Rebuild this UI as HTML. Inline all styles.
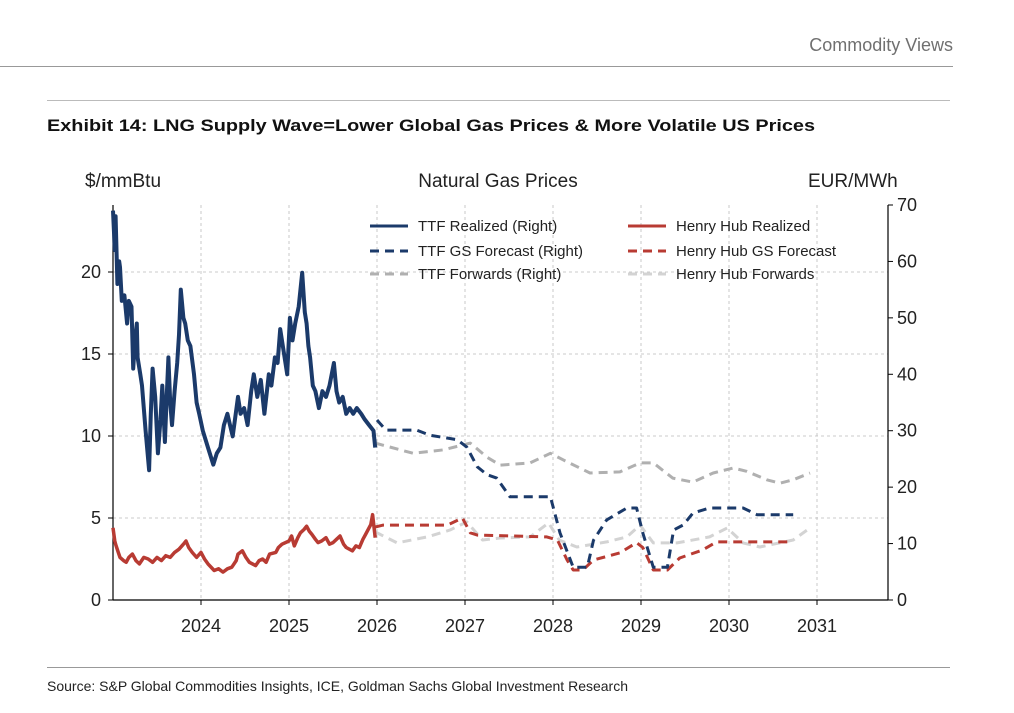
<!DOCTYPE html>
<html><head><meta charset="utf-8">
<style>
body{margin:0;background:#fff;width:1014px;height:708px;overflow:hidden;font-family:"Liberation Sans",sans-serif}
</style></head>
<body>
<svg width="1014" height="708" viewBox="0 0 1014 708">
<text x="953" y="51" text-anchor="end" font-size="18" fill="#707070">Commodity Views</text>
<line x1="0" y1="66.5" x2="953" y2="66.5" stroke="#999"/>
<line x1="47" y1="100.5" x2="950" y2="100.5" stroke="#bbb"/>
<text x="47" y="131" font-size="17" font-weight="bold" fill="#111" textLength="768" lengthAdjust="spacingAndGlyphs">Exhibit 14: LNG Supply Wave=Lower Global Gas Prices &amp; More Volatile US Prices</text>
<text x="85" y="187" font-size="19" fill="#222">$/mmBtu</text>
<text x="498" y="187" font-size="19" fill="#222" text-anchor="middle">Natural Gas Prices</text>
<text x="808" y="187" font-size="19" fill="#222">EUR/MWh</text>
<g id="grid"></g>
<g id="axes"></g>
<g id="series"></g>
<g id="legend"></g>
<line x1="47" y1="667.5" x2="950" y2="667.5" stroke="#999"/>
<text x="47" y="691" font-size="14" fill="#222">Source: S&amp;P Global Commodities Insights, ICE, Goldman Sachs Global Investment Research</text>
</svg>
<script>
const yearTicks=[2024,2025,2026,2027,2028,2029,2030,2031];
const leftTicks=[0,5,10,15,20];
const rightTicks=[0,10,20,30,40,50,60,70];
const ttfRealized=[[2023.00,69],[2023.02,62],[2023.03,68],[2023.05,56],[2023.07,60],[2023.08,59],[2023.10,53],[2023.13,54],[2023.16,49],[2023.18,53],[2023.21,52],[2023.23,41],[2023.25,46],[2023.27,49],[2023.28,43],[2023.31,40],[2023.33,38],[2023.37,30],[2023.41,23],[2023.43,33],[2023.45,41],[2023.48,36],[2023.51,26],[2023.54,32],[2023.56,38],[2023.59,28],[2023.61,36],[2023.63,43],[2023.65,35],[2023.67,31],[2023.70,37],[2023.73,42],[2023.75,47],[2023.77,55],[2023.80,50],[2023.82,49],[2023.85,46],[2023.88,45],[2023.92,40],[2023.95,35],[2023.98,33],[2024.02,30],[2024.08,27],[2024.14,24],[2024.18,26],[2024.22,27],[2024.26,31],[2024.30,33],[2024.33,31],[2024.36,29],[2024.42,36],[2024.45,33],[2024.49,34],[2024.53,31],[2024.57,37],[2024.60,40],[2024.64,36],[2024.68,39],[2024.72,33],[2024.77,40],[2024.80,38],[2024.84,43],[2024.87,42],[2024.90,48],[2024.94,44],[2024.98,40],[2025.01,50],[2025.04,46],[2025.07,49],[2025.11,52],[2025.15,58],[2025.18,51],[2025.20,49],[2025.22,45],[2025.24,43],[2025.27,38],[2025.30,37],[2025.34,34],[2025.38,37],[2025.42,36],[2025.46,38],[2025.51,42],[2025.54,37],[2025.57,35],[2025.61,36],[2025.65,33],[2025.69,34],[2025.73,33],[2025.77,34],[2025.82,33],[2025.86,32],[2025.91,31],[2025.96,30],[2025.98,27]];
const ttfForecast=[[2026.0,31.9],[2026.1,30.1],[2026.45,30.1],[2026.6,29.2],[2026.91,28.4],[2027.02,27.1],[2027.14,23.6],[2027.25,22.2],[2027.36,21.6],[2027.51,18.3],[2027.97,18.3],[2028.08,11.9],[2028.23,5.8],[2028.39,5.8],[2028.46,10.6],[2028.61,14.2],[2028.84,16.3],[2028.95,16.3],[2029.02,11.9],[2029.14,5.8],[2029.30,5.8],[2029.37,12.4],[2029.48,13.3],[2029.59,15.4],[2029.78,16.3],[2030.16,16.3],[2030.32,15.1],[2030.73,15.1]];
const ttfForwards=[[2025.98,27.8],[2026.41,26.0],[2026.75,26.6],[2027.06,27.8],[2027.25,25.3],[2027.40,23.9],[2027.74,24.3],[2027.97,26.0],[2028.12,24.8],[2028.42,22.5],[2028.76,22.7],[2028.99,24.3],[2029.14,24.3],[2029.36,21.6],[2029.59,20.9],[2029.82,22.5],[2030.05,23.4],[2030.20,22.8],[2030.43,21.3],[2030.58,20.7],[2030.73,21.3],[2030.92,22.5]];
const hhRealized=[[2023.0,4.4],[2023.02,3.6],[2023.03,3.4],[2023.06,2.9],[2023.08,2.6],[2023.12,2.4],[2023.15,2.3],[2023.18,2.6],[2023.22,2.8],[2023.26,2.4],[2023.3,2.2],[2023.35,2.6],[2023.4,2.5],[2023.45,2.3],[2023.5,2.6],[2023.55,2.4],[2023.6,2.7],[2023.65,2.6],[2023.7,2.9],[2023.75,3.1],[2023.8,3.4],[2023.83,3.6],[2023.86,3.2],[2023.9,2.9],[2023.95,2.6],[2024.0,2.9],[2024.04,2.5],[2024.08,2.2],[2024.15,1.8],[2024.2,1.9],[2024.25,1.7],[2024.3,1.9],[2024.35,2.0],[2024.4,2.4],[2024.42,2.8],[2024.47,3.0],[2024.51,2.6],[2024.55,2.3],[2024.62,2.1],[2024.66,2.4],[2024.7,2.5],[2024.74,2.3],[2024.78,2.8],[2024.85,2.9],[2024.88,3.2],[2024.92,3.4],[2025.0,3.6],[2025.03,3.9],[2025.06,3.3],[2025.1,3.8],[2025.13,4.1],[2025.17,4.3],[2025.2,4.5],[2025.23,4.2],[2025.26,4.0],[2025.3,3.7],[2025.33,3.5],[2025.37,3.6],[2025.42,3.8],[2025.46,3.4],[2025.5,3.5],[2025.54,3.7],[2025.58,3.9],[2025.62,3.4],[2025.65,3.2],[2025.72,3.0],[2025.76,3.3],[2025.8,3.2],[2025.84,3.7],[2025.87,4.0],[2025.93,4.6],[2025.95,5.2],[2025.98,3.8]];
const hhForecast=[[2025.98,4.45],[2026.07,4.57],[2026.8,4.57],[2026.97,5.0],[2027.06,4.1],[2027.14,3.96],[2027.93,3.85],[2028.05,3.66],[2028.16,2.44],[2028.23,1.83],[2028.34,1.83],[2028.46,2.44],[2028.76,2.87],[2028.95,3.5],[2029.02,3.2],[2029.14,1.83],[2029.30,1.83],[2029.44,2.56],[2029.7,3.05],[2029.86,3.54],[2030.73,3.54]];
const hhForwards=[[2025.98,4.15],[2026.23,3.48],[2026.57,3.85],[2026.83,4.27],[2027.02,4.76],[2027.2,3.66],[2027.40,3.78],[2027.74,3.85],[2027.95,4.7],[2028.07,3.66],[2028.27,3.23],[2028.61,3.54],[2028.84,3.85],[2028.99,4.57],[2029.14,3.48],[2029.41,3.48],[2029.78,3.85],[2029.98,4.39],[2030.16,3.48],[2030.35,3.23],[2030.73,3.66],[2030.92,4.39]];

const NS='http://www.w3.org/2000/svg';
const X0=113,X1=888,Y0=600,Y1=205;
const xS=y=>X0+(y-2023.0)*88;
const yL=v=>Y0-v*16.4;
const yR=v=>Y0-v*(Y0-Y1)/70;
function mk(tag,attrs,parent){const e=document.createElementNS(NS,tag);for(const k in attrs)e.setAttribute(k,attrs[k]);document.getElementById(parent).appendChild(e);return e;}
yearTicks.forEach(t=>{const l=mk('line',{x1:xS(t),x2:xS(t),y1:Y1,y2:Y0,stroke:'#bbb','stroke-dasharray':'3,3','stroke-width':0.8},'grid');

});
leftTicks.forEach(t=>{if(t===0)return;const l=mk('line',{x1:X0,x2:X1,y1:yL(t),y2:yL(t),stroke:'#bbb','stroke-dasharray':'3,3','stroke-width':0.8},'grid');

});
[[X0,Y1,X0,Y0,'left-axis-line'],[X1,Y1,X1,Y0,'right-axis-line'],[X0,Y0,X1,Y0,'x-axis-line']].forEach(a=>{const l=mk('line',{x1:a[0],y1:a[1],x2:a[2],y2:a[3],stroke:'#000','stroke-width':1.2},'axes');

});
yearTicks.forEach(t=>{mk('line',{x1:xS(t),x2:xS(t),y1:Y0,y2:Y0+5,stroke:'#000'},'axes');
const tx=mk('text',{x:xS(t),y:Y0+32,'text-anchor':'middle','font-size':18,fill:'#222'},'axes');tx.textContent=t;

});
leftTicks.forEach(t=>{mk('line',{x1:X0-5,x2:X0,y1:yL(t),y2:yL(t),stroke:'#000'},'axes');
const tx=mk('text',{x:X0-12,y:yL(t)+6,'text-anchor':'end','font-size':18,fill:'#222'},'axes');tx.textContent=t;

});
rightTicks.forEach(t=>{mk('line',{x1:X1,x2:X1+5,y1:yR(t),y2:yR(t),stroke:'#000'},'axes');
const tx=mk('text',{x:X1+9,y:yR(t)+6,'font-size':18,fill:'#222'},'axes');tx.textContent=t;

});
function line(data,yf,color,dash,w,name){const d=data.map((p,i)=>(i?'L':'M')+xS(p[0]).toFixed(1)+','+yf(p[1]).toFixed(1)).join('');
const p=mk('path',{d:d,fill:'none',stroke:color,'stroke-width':w,'stroke-dasharray':dash,'stroke-linejoin':'round'},'series');

}
line(ttfForwards,yR,'#b0b0b0','9,6',3,'ttf-forwards-line');
line(hhForwards,yL,'#d3d3d3','9,6',3,'henry-hub-forwards-line');
line(hhForecast,yL,'#b83b33','9,6',3,'henry-hub-forecast-line');
line(ttfForecast,yR,'#1b3a6a','9,6',3,'ttf-forecast-line');
line(hhRealized,yL,'#b83b33','none',3.5,'henry-hub-realized-line');
line(ttfRealized,yR,'#1b3a6a','none',4,'ttf-realized-line');
const leg=[[370,226,'#1b3a6a','none','TTF Realized (Right)'],[370,251,'#1b3a6a','9,6','TTF GS Forecast (Right)'],[370,274,'#b0b0b0','9,6','TTF Forwards (Right)'],
[628,251,'#b83b33','9,6','Henry Hub GS Forecast'],[628,274,'#d3d3d3','9,6','Henry Hub Forwards']];
leg.forEach((g,i)=>{const l=mk('line',{x1:g[0],x2:g[0]+38,y1:g[1],y2:g[1],stroke:g[2],'stroke-width':3,'stroke-dasharray':g[3]},'legend');


const t=mk('text',{x:g[0]+48,y:g[1]+5,'font-size':15,fill:'#222'},'legend');t.textContent=g[4];

});
const hl=mk('line',{x1:628,x2:666,y1:226,y2:226,stroke:'#b83b33','stroke-width':3},'legend');


const ht=mk('text',{x:676,y:231,'font-size':15,fill:'#222'},'legend');ht.textContent='Henry Hub Realized';


</script>
</body></html>
